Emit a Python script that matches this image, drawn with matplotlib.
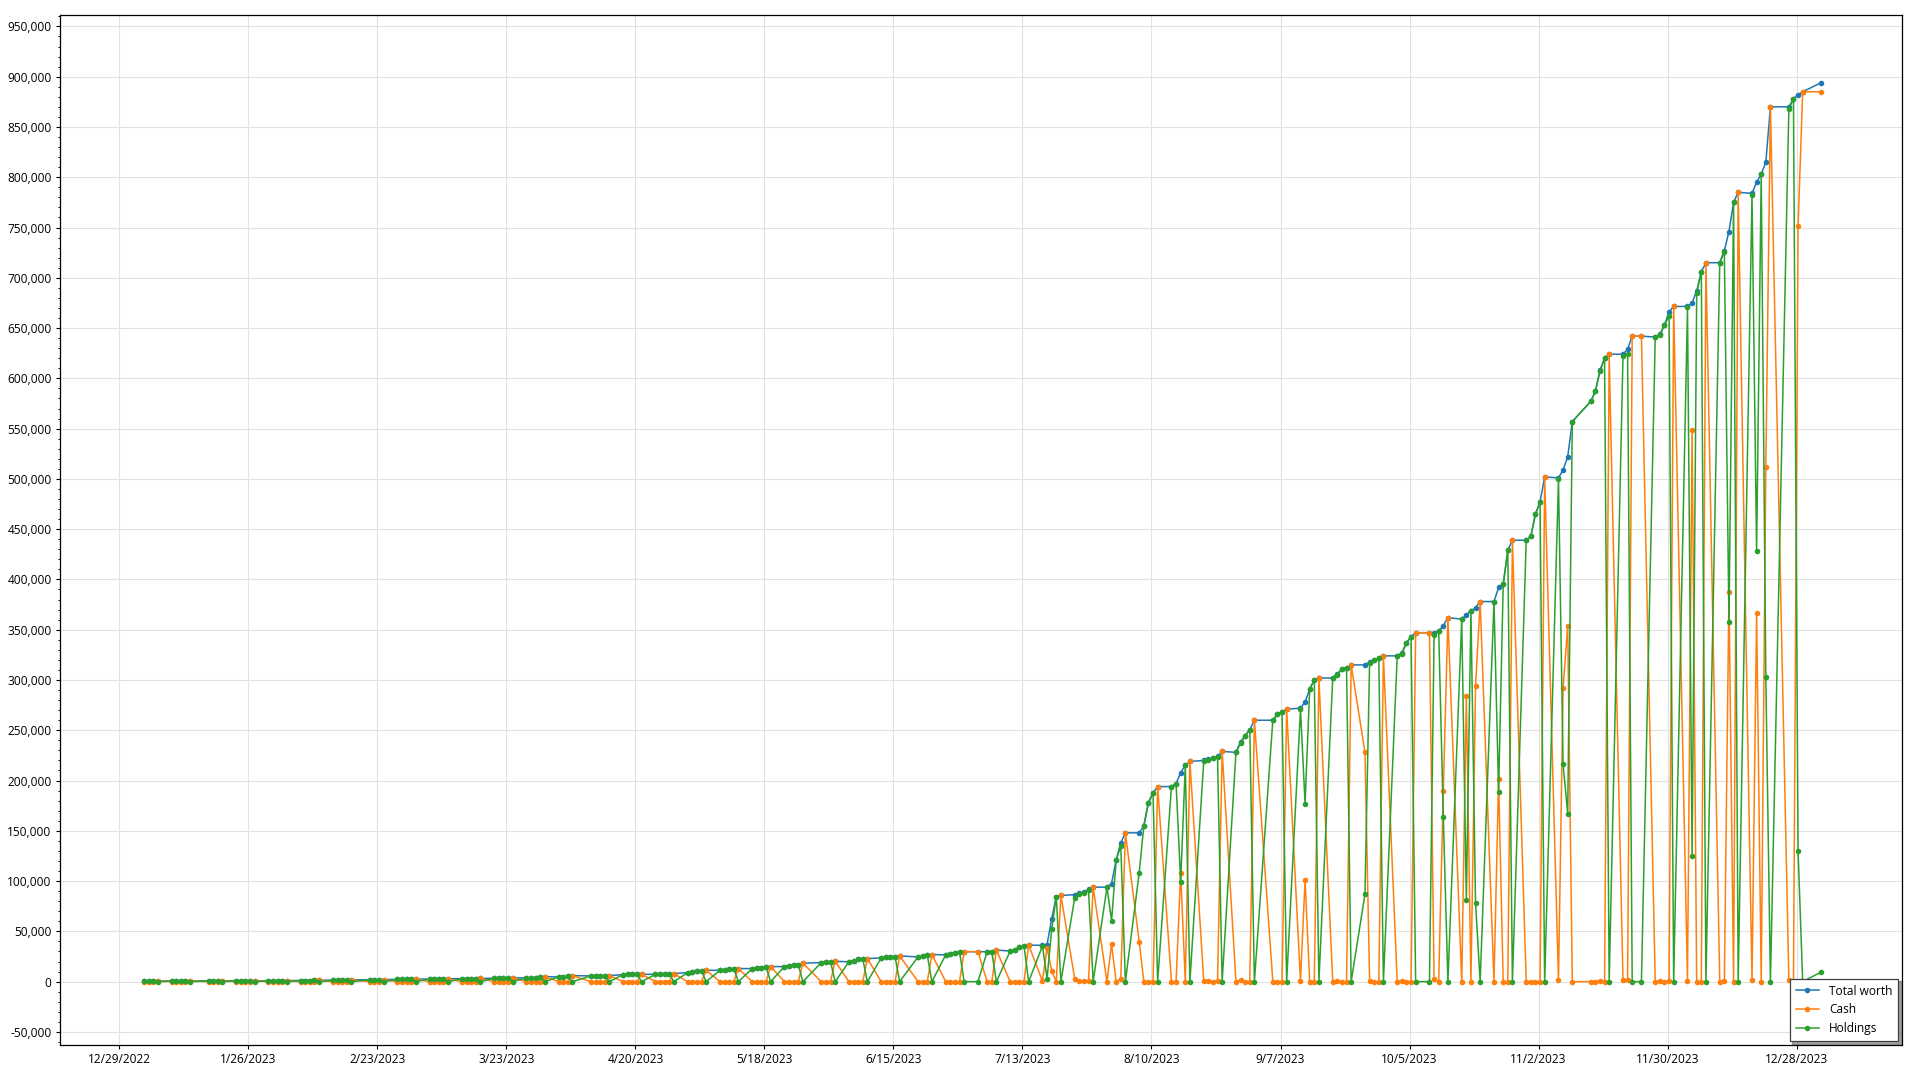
import pandas as pd
import matplotlib
matplotlib.use("Agg")
import matplotlib.pyplot as plt
from matplotlib.ticker import FuncFormatter, MultipleLocator

plt.rcParams['font.family'] = ['Open Sans', 'DejaVu Sans']

# trading days of the export (market holidays and one missing row are skipped)
skipped_days = ["2023-01-16", "2023-02-20", "2023-04-07", "2023-05-29", "2023-06-19",
                "2023-07-04", "2023-09-04", "2023-11-10", "2023-11-23", "2023-12-25",
                "2024-01-01"]
days = pd.bdate_range("2023-01-03", "2024-01-02", freq="C", holidays=skipped_days)

# one line per week
total = [
    500, 510, 520, 530,
    560, 580, 600, 620, 640,
    660, 680, 700, 720,
    750, 780, 800, 830, 850,
    880, 920, 950, 980, 1010,
    1050, 1100, 1150, 1200, 1250,
    1350, 1450, 1550, 1650, 1750,
    1850, 1950, 2000, 2050,
    2150, 2250, 2350, 2450, 2550,
    2600, 2650, 2700, 2750, 2800,
    2900, 2950, 3000, 3100, 3200,
    3350, 3450, 3550, 3650, 3750,
    3700, 3900, 4100, 4300, 5000,
    4700, 5000, 5200, 6000,
    5700, 5800, 5800, 5900, 6000,
    7000, 7300, 7700, 7700, 7300,
    7300, 7400, 7500, 7600, 8000,
    9000, 10000, 10300, 10700, 11300,
    11300, 12000, 12600, 13000, 13000,
    13000, 13600, 14000, 14600, 15000,
    15000, 16000, 16300, 17000, 18300,
    19000, 19600, 20000, 20300,
    19700, 21000, 22300, 22600, 23000,
    23600, 24300, 24600, 25000, 25600,
    24600, 25300, 26600, 27000,
    26600, 27600, 28900, 29800, 29800,
    29800, 29800, 29800, 31400,
    30500, 31400, 34400, 35400, 36400,
    36100, 36800, 62600, 84400, 85700,
    86500, 87700, 89000, 92000, 94000,
    94000, 97600, 121000, 138000, 148000,
    148000, 155000, 178000, 187700, 194000,
    194000, 197000, 208000, 215000, 219000,
    220000, 221000, 222000, 224000, 229000,
    228000, 238600, 244600, 250600, 260000,
    260000, 266000, 268000, 271000,
    272000, 278000, 291000, 300000, 302000,
    302000, 306000, 311000, 312000, 315000,
    315000, 318000, 320000, 322000, 324000,
    324000, 327000, 337000, 343000, 347000,
    347000, 347000, 349000, 354000, 362000,
    360500, 365000, 368600, 372000, 378000,
    378000, 392000, 395000, 429000, 439000,
    439000, 443000, 465000, 477000, 502000,
    501000, 509000, 522000, 557000,
    577000, 587000, 608000, 620000, 624000,
    624000, 629000, 642000, 642000,
    641000, 644000, 653000, 666000, 671500,
    671500, 675000, 687000, 706000, 715000,
    715000, 727000, 746000, 775000, 785000,
    784000, 795000, 803000, 815000, 870000,
    870000, 878000, 882000, 885000,
    894000,
]

cash = [
    0, 0, 0, 530,
    0, 0, 0, 0, 640,
    0, 0, 0, 720,
    0, 0, 0, 0, 850,
    0, 0, 0, 0, 1010,
    0, 0, 0, 0, 1250,
    0, 0, 0, 0, 1750,
    0, 0, 0, 2050,
    0, 0, 0, 0, 2550,
    0, 0, 0, 0, 2800,
    0, 0, 0, 0, 3200,
    0, 0, 0, 0, 3750,
    0, 0, 0, 0, 5000,
    0, 0, 0, 6000,
    0, 0, 0, 0, 6000,
    0, 0, 0, 0, 7300,
    0, 0, 0, 0, 8000,
    0, 0, 0, 0, 11300,
    0, 0, 0, 0, 13000,
    0, 0, 0, 0, 15000,
    0, 0, 0, 0, 18300,
    0, 0, 0, 20300,
    0, 0, 0, 0, 23000,
    0, 0, 0, 0, 25600,
    0, 0, 0, 27000,
    0, 0, 0, 0, 29800,
    29800, 0, 0, 31400,
    0, 0, 0, 0, 36400,
    700, 33800, 10600, 0, 85700,
    3000, 1000, 500, 1000, 94000,
    0, 37000, 0, 3000, 148000,
    39700, 0, 0, 0, 194000,
    0, 0, 108500, 0, 219000,
    1000, 1000, 0, 1000, 229000,
    0, 1500, 0, 0, 260000,
    0, 0, 0, 271000,
    1000, 101000, 0, 0, 302000,
    0, 1000, 0, 0, 315000,
    228000, 1000, 0, 0, 324000,
    0, 1000, 0, 0, 347000,
    347000, 2700, 0, 190000, 362000,
    0, 284000, 0, 294000, 378000,
    0, 202000, 0, 0, 439000,
    0, 0, 0, 0, 502000,
    1500, 292000, 354000, 0,
    0, 0, 1000, 0, 624000,
    1500, 2000, 642000, 642000,
    0, 1000, 0, 1000, 671500,
    1000, 549000, 0, 0, 715000,
    0, 1000, 388000, 0, 785000,
    2000, 367000, 0, 512000, 870000,
    2000, 0, 751000, 885000,
    885000,
]

holdings = [
    500, 510, 520, 0,
    560, 580, 600, 620, 0,
    660, 680, 700, 0,
    750, 780, 800, 830, 0,
    880, 920, 950, 980, 0,
    1050, 1100, 1150, 1200, 0,
    1350, 1450, 1550, 1650, 0,
    1850, 1950, 2000, 0,
    2150, 2250, 2350, 2450, 0,
    2600, 2650, 2700, 2750, 0,
    2900, 2950, 3000, 3100, 0,
    3350, 3450, 3550, 3650, 0,
    3700, 3900, 4100, 4300, 0,
    4700, 5000, 5200, 0,
    5700, 5800, 5800, 5900, 0,
    7000, 7300, 7700, 7700, 0,
    7300, 7400, 7500, 7600, 0,
    9000, 10000, 10300, 10700, 0,
    11300, 12000, 12600, 13000, 0,
    13000, 13600, 14000, 14600, 0,
    15000, 16000, 16300, 17000, 0,
    19000, 19600, 20000, 0,
    19700, 21000, 22300, 22600, 0,
    23600, 24300, 24600, 25000, 0,
    24600, 25300, 26600, 0,
    26600, 27600, 28900, 29800, 0,
    0, 29800, 29800, 0,
    30500, 31400, 34400, 35400, 0,
    35400, 3000, 52000, 84400, 0,
    83500, 86700, 88500, 91000, 0,
    94000, 60600, 121000, 135000, 0,
    108300, 155000, 178000, 187700, 0,
    194000, 197000, 99500, 215000, 0,
    219000, 220000, 222000, 223000, 0,
    228000, 237100, 244600, 250600, 0,
    260000, 266000, 268000, 0,
    271000, 177000, 291000, 300000, 0,
    302000, 305000, 311000, 312000, 0,
    87000, 317000, 320000, 322000, 0,
    324000, 326000, 337000, 343000, 0,
    0, 344300, 349000, 164000, 0,
    360500, 81000, 368600, 78000, 0,
    378000, 189000, 395000, 429000, 0,
    439000, 443000, 465000, 477000, 0,
    499500, 216000, 167000, 557000,
    577000, 587000, 607000, 620000, 0,
    622500, 624000, 0, 0,
    641000, 643000, 653000, 662000, 0,
    670500, 125000, 685000, 706000, 0,
    715000, 726000, 358000, 775000, 0,
    782000, 428000, 803000, 303000, 0,
    868000, 878000, 130000, 0,
    9600,
]

tick_dates = pd.date_range("2022-12-29", periods=14, freq="28D")
series_colors = ["#1f77b4", "#ff7f0e", "#2ca02c"]

fig = plt.figure(figsize=(19.2, 10.8), dpi=100)
ax = fig.add_axes([0.03125, 0.0324, 0.9594, 0.9534])

# rows are stamped a few hours into the day, so points sit just right of the date grid
stamp = days + pd.Timedelta(hours=8)
for vals, name, col in zip([total, cash, holdings], ["Total worth", "Cash", "Holdings"], series_colors):
    ax.plot(stamp, vals, color=col, lw=1.1, marker="o", markersize=4.0,
            markeredgewidth=0, label=name)

ax.set_xlim(tick_dates[0] - pd.Timedelta(days=12.9), tick_dates[0] + pd.Timedelta(days=386.9))
ax.set_ylim(-63000, 961000)

ax.set_xticks(tick_dates)
ax.set_xticklabels([f"{d.month}/{d.day}/{d.year}" for d in tick_dates])
ax.yaxis.set_major_locator(MultipleLocator(50000))
ax.yaxis.set_minor_locator(MultipleLocator(10000))
ax.yaxis.set_major_formatter(FuncFormatter(lambda v, p: f"{v:,.0f}"))

ax.grid(True, which="major", color="#e1e1e1", lw=0.8)
ax.set_axisbelow(True)
ax.tick_params(axis="both", which="major", labelsize=8.6, length=3, width=0.8,
               colors="#000000", pad=3)
ax.tick_params(axis="y", which="minor", length=1.6, width=0.7)
for s in ax.spines.values():
    s.set_linewidth(0.9)
    s.set_color("#000000")

leg = ax.legend(loc="lower right", fontsize=8.6, frameon=True, fancybox=False,
                shadow=True, borderaxespad=0.3, handlelength=2.0, borderpad=0.5,
                labelspacing=0.5)
leg.get_frame().set_edgecolor("#404040")
leg.get_frame().set_linewidth(0.9)

fig.savefig("out.png", dpi=100)
